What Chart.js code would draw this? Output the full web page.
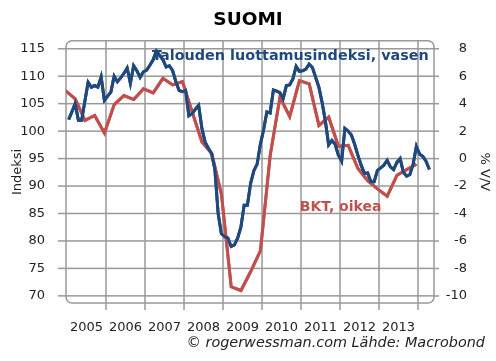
<!DOCTYPE html>
<html><head><meta charset="utf-8">
<script src="https://cdn.jsdelivr.net/npm/chart.js@4"></script>
<style>html,body{margin:0;padding:0;background:#fff}canvas{display:block}</style>
</head><body>
<canvas id="c" width="496" height="361"></canvas>
<script>
// ---- data ----
const title = 'SUOMI';
const seriesNames = ['Talouden luottamusindeksi, vasen', 'BKT, oikea'];
const yearLabels = ['2005','2006','2007','2008','2009','2010','2011','2012','2013'];
const confidenceStartYear = 2005; // monthly from Jan 2005
const confidence = [
  102.1,103.5,105.0,102.0,102.0,105.5,108.9,108.0,108.3,108.0,109.9,105.6,
  106.4,107.1,110.0,109.0,109.7,110.5,111.5,108.7,111.9,111.0,109.8,110.8,
  111.1,112.0,113.0,114.6,113.8,113.0,111.7,111.9,111.0,109.0,107.4,107.2,
  107.4,102.8,103.2,104.0,104.7,100.5,98.0,96.9,95.9,93.0,85.0,81.3,
  80.8,80.5,79.0,79.3,80.5,82.5,86.5,86.5,90.5,92.8,94.0,97.6,
  100.3,103.5,103.3,107.5,107.3,107.0,105.9,108.3,108.4,109.5,111.8,110.9,
  111.0,111.3,112.2,111.6,109.8,108.0,105.2,101.8,97.5,98.3,97.6,95.6,
  94.5,100.5,100.0,99.3,97.6,95.6,93.8,92.3,92.4,90.8,90.8,92.8,
  93.3,93.8,94.7,93.5,93.0,94.3,95.0,92.5,91.8,92.1,94.0,97.2,
  95.8,95.4,94.5,93.0
];
const gdpStartYear = 2005; // quarterly from Q1 2005, % y/y
const gdp = [
  4.95,4.35,2.78,3.14, 1.86,3.94,4.59,4.30, 5.08,4.79,5.85,5.37,
  5.61,3.40,1.21,0.37, -2.60,-9.33,-9.60,-8.22, -6.70,0.24,4.47,3.07,
  5.68,5.44,2.42,3.02, 0.90,0.97,-0.72,-1.60, -2.20,-2.73,-1.21,-0.80, -0.41
];
const leftTicks = [70,75,80,85,90,95,100,105,110,115];
const rightTicks = [-10,-8,-6,-4,-2,0,2,4,6,8];
const yearGridLines = [2006,2007,2008,2009,2010,2011,2012,2013,2014];
const footerText = '\u00A9 rogerwessman.com L\u00e4hde: Macrobond';

// ---- styles ----
const BLUE = '#1F497D', RED = '#C0504D', GRID = 'rgb(153,153,153)', TXT = '#222222';
const FONT = '"DejaVu Sans", Verdana, sans-serif';

const confPts = confidence.map((v, i) => ({x: confidenceStartYear + (i + 0.5) / 12, y: v}));
const gdpPts = gdp.map((v, i) => ({x: gdpStartYear + i / 4 - 0.04, y: v}));

function roundedPath(ctx, L, T, R, B, r) {
  ctx.moveTo(L + r, T);
  ctx.lineTo(R - r, T);
  ctx.arc(R - r, T + r, r, -Math.PI / 2, 0);
  ctx.lineTo(R, B - r);
  ctx.arc(R - r, B - r, r, 0, Math.PI / 2);
  ctx.lineTo(L + r, B);
  ctx.arc(L + r, B - r, r, Math.PI / 2, Math.PI);
  ctx.lineTo(L, T + r);
  ctx.arc(L + r, T + r, r, Math.PI, Math.PI * 1.5);
  ctx.closePath();
}

// grid, frame and tick marks placed by the scales (as filled strips), then the series on top, then labels
const overlay = {
  id: 'overlay',
  afterDatasetsDraw(chart) {
    const {ctx} = chart;
    const a = chart.chartArea;
    const x = chart.scales.x, y = chart.scales.y, y2 = chart.scales.y2;
    const w = 1.5;
    ctx.save();
    ctx.globalAlpha = 1;
    ctx.globalCompositeOperation = 'source-over';
    ctx.fillStyle = GRID;
    leftTicks.forEach(v => {
      const p = y.getPixelForValue(v);
      ctx.fillRect(a.left - 8, p - w / 2, a.right - a.left + 8, w);
    });
    rightTicks.forEach(v => {
      const p = y2.getPixelForValue(v);
      ctx.fillRect(a.right, p - w / 2, 5, w);
    });
    yearGridLines.forEach(v => {
      const p = x.getPixelForValue(v);
      ctx.fillRect(p - w / 2, a.top, w, a.bottom - a.top + 7);
    });
    // rounded frame as a filled ring
    ctx.beginPath();
    roundedPath(ctx, a.left - w / 2, a.top - w / 2, a.right + w / 2, a.bottom + w / 2, 6.75);
    roundedPath(ctx, a.left + w / 2, a.top + w / 2, a.right - w / 2, a.bottom - w / 2, 5.25);
    ctx.fill('evenodd');
    ctx.restore();

    // series again, above the grid
    for (let i = chart.data.datasets.length - 1; i >= 0; i--) {
      const meta = chart.getDatasetMeta(i);
      ctx.save();
      ctx.beginPath();
      ctx.rect(a.left, a.top - 2, a.right - a.left, a.bottom - a.top + 4);
      ctx.clip();
      meta.dataset.draw(ctx, a);
      ctx.restore();
    }

    ctx.save();
    ctx.textAlign = 'left'; ctx.textBaseline = 'alphabetic';
    ctx.font = 'bold 14.4px ' + FONT; ctx.fillStyle = BLUE;
    ctx.fillText(seriesNames[0], x.getPixelForValue(2007.18), y.getPixelForValue(113.0));
    ctx.font = 'bold 14px ' + FONT; ctx.fillStyle = RED;
    ctx.fillText(seriesNames[1], x.getPixelForValue(2010.97), y2.getPixelForValue(-3.82));
    ctx.restore();
  },
  afterDraw(chart) {
    const {ctx} = chart;
    ctx.save();
    ctx.textAlign = 'right'; ctx.textBaseline = 'middle';
    ctx.font = 'italic 14.4px ' + FONT; ctx.fillStyle = TXT;
    ctx.fillText(footerText, chart.width - 11, 343);
    ctx.restore();
  }
};

new Chart(document.getElementById('c'), {
  type: 'line',
  data: {
    datasets: [
      {label: seriesNames[0], data: confPts, yAxisID: 'y', borderColor: BLUE, borderWidth: 3, pointRadius: 0},
      {label: seriesNames[1], data: gdpPts, yAxisID: 'y2', borderColor: RED, borderWidth: 3, pointRadius: 0}
    ]
  },
  options: {
    responsive: false, animation: false, devicePixelRatio: 1,
    plugins: {
      legend: {display: false},
      title: {display: true, text: title, color: '#000', font: {family: FONT, size: 18.5, weight: 'bold'},
              padding: {top: 8, bottom: 10}}
    },
    scales: {
      x: {
        type: 'linear', min: 2004.974, max: 2014.41,
        afterBuildTicks(s) {
          const t = [];
          for (let yv = 2005; yv < 2014; yv++) t.push({value: yv + 0.5});
          s.ticks = t;
        },
        afterFit(s) { s.height = 58; },
        ticks: {
          autoSkip: false, maxRotation: 0, padding: 9, color: TXT,
          font: {family: FONT, size: 13},
          callback(v) { return yearLabels[Math.floor(v) - 2005]; }
        },
        grid: {display: false},
        border: {display: false}
      },
      y: {
        min: 68.7, max: 116.45,
        afterBuildTicks(s) { s.ticks = leftTicks.map(v => ({value: v})); },
        afterFit(s) { s.width = 66; },
        ticks: {color: TXT, font: {family: FONT, size: 13}, padding: 13},
        grid: {display: false},
        border: {display: false},
        title: {display: true, text: 'Indeksi', color: TXT, font: {family: FONT, size: 13}, padding: {top: 10, bottom: 0}}
      },
      y2: {
        position: 'right', min: -10.51, max: 8.58,
        afterBuildTicks(s) { s.ticks = rightTicks.map(v => ({value: v})); },
        afterFit(s) { s.width = 62; },
        ticks: {color: TXT, font: {family: FONT, size: 13}, mirror: true, padding: 33},
        grid: {display: false},
        border: {display: false},
        title: {display: true, text: '% V/V', color: TXT, font: {family: FONT, size: 13}, padding: {top: 4, bottom: 0}}
      }
    }
  },
  plugins: [overlay]
});
</script>
</body></html>
